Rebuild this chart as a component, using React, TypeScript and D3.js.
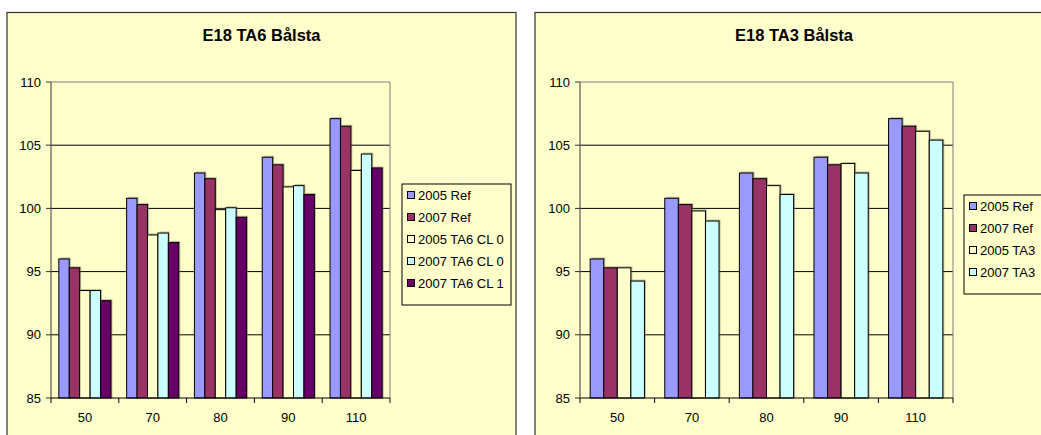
import React from "react";
import * as d3 from "d3";

// Speed categories (km/h)
const categories = ["50", "70", "80", "90", "110"];

// E18 TA6 Bålsta
const ta6Series = ["2005 Ref", "2007 Ref", "2005 TA6 CL 0", "2007 TA6 CL 0", "2007 TA6 CL 1"];
const ta6_2005Ref = [96.0, 100.8, 102.8, 104.05, 107.1];
const ta6_2007Ref = [95.3, 100.3, 102.35, 103.45, 106.5];
const ta6_2005CL0 = [93.5, 97.9, 99.9, 101.7, 103.0];
const ta6_2007CL0 = [93.5, 98.05, 100.05, 101.8, 104.3];
const ta6_2007CL1 = [92.7, 97.3, 99.3, 101.1, 103.2];

// E18 TA3 Bålsta
const ta3Series = ["2005 Ref", "2007 Ref", "2005 TA3", "2007 TA3"];
const ta3_2005Ref = [96.0, 100.8, 102.8, 104.05, 107.1];
const ta3_2007Ref = [95.3, 100.3, 102.35, 103.45, 106.5];
const ta3_2005 = [95.3, 99.8, 101.8, 103.55, 106.1];
const ta3_2007 = [94.25, 99.0, 101.1, 102.8, 105.4];

const yTicks = [85, 90, 95, 100, 105, 110];

const BG = "#FFFFCC";
const FONT = "'Liberation Sans', Arial, sans-serif";

type ChartProps = {
  title: string;
  series: string[];
  values: number[][];
  colors: string[];
  frameX: number;
  frameW: number;
  plotX0: number;
  plotX1: number;
  legendX: number;
  legendY: number;
  legendW: number;
};

function Chart(p: ChartProps) {
  const plotY0 = 82;
  const plotY1 = 398;
  const y = d3.scaleLinear().domain([85, 110]).range([plotY1, plotY0]);
  const x = d3.scaleBand<string>().domain(categories).range([p.plotX0, p.plotX1]).padding(0);
  const groupW = x.bandwidth();
  const barW = groupW / (p.series.length + 1.5);
  const inner = d3
    .scaleBand<number>()
    .domain(d3.range(p.series.length))
    .range([barW * 0.75, groupW - barW * 0.75])
    .padding(0);
  const cx = p.frameX + p.frameW / 2;
  const itemH = 22;
  const legendH = p.series.length * itemH + 1;

  return (
    <g>
      <rect x={p.frameX} y={12.5} width={p.frameW} height={440} fill={BG} stroke="#333" strokeWidth={1.2} />
      <text x={cx} y={41} textAnchor="middle" fontFamily={FONT} fontWeight="bold" fontSize={16.5}>
        {p.title}
      </text>
      {/* gridlines */}
      {yTicks.slice(1, -1).map((t) => (
        <line key={t} x1={p.plotX0} x2={p.plotX1} y1={y(t)} y2={y(t)} stroke="#000" strokeWidth={1} />
      ))}
      {/* plot border top/right */}
      <path d={`M${p.plotX0},${y(110)}H${p.plotX1}V${y(85)}`} fill="none" stroke="#808080" strokeWidth={1} />
      {/* bars */}
      {categories.map((c, ci) =>
        p.values.map((vals, si) => {
          const bx = (x(c) as number) + (inner(si) as number);
          const by = y(vals[ci]);
          const h = y(85) - by;
          return (
            <g key={`${ci}-${si}`}>
              <rect x={bx + 1.5} y={by - 1.5} width={barW} height={h + 1.5} fill="#6e6e5a" opacity={0.45} />
              <rect x={bx} y={by} width={barW} height={h} fill={p.colors[si]} stroke="#000" strokeWidth={1} />
            </g>
          );
        })
      )}
      {/* y axis */}
      <line x1={p.plotX0} x2={p.plotX0} y1={y(110)} y2={y(85)} stroke="#555" strokeWidth={1.2} />
      {yTicks.map((t) => (
        <g key={t}>
          <line x1={p.plotX0 - 5} x2={p.plotX0} y1={y(t)} y2={y(t)} stroke="#333" />
          <text x={p.plotX0 - 10} y={y(t) + 4.5} textAnchor="end" fontFamily={FONT} fontSize={13}>
            {t}
          </text>
        </g>
      ))}
      {/* x axis */}
      <line x1={p.plotX0} x2={p.plotX1} y1={y(85)} y2={y(85)} stroke="#000" strokeWidth={1.2} />
      {[...categories.map((c) => x(c) as number), p.plotX1].map((tx, i) => (
        <line key={i} x1={tx} x2={tx} y1={y(85)} y2={y(85) + 5} stroke="#000" />
      ))}
      {categories.map((c) => (
        <text key={c} x={(x(c) as number) + groupW / 2} y={421.5} textAnchor="middle" fontFamily={FONT} fontSize={13}>
          {c}
        </text>
      ))}
      {/* legend */}
      <rect x={p.legendX} y={p.legendY} width={p.legendW} height={legendH + 10} fill={BG} stroke="#000" strokeWidth={1} />
      {p.series.map((s, i) => {
        const iy = p.legendY + 11 + i * itemH;
        return (
          <g key={s}>
            <rect x={p.legendX + 5.5} y={iy - 3.5} width={7} height={7} fill={p.colors[i]} stroke="#000" strokeWidth={1} />
            <text x={p.legendX + 16} y={iy + 4.5} fontFamily={FONT} fontSize={13}>
              {s}
            </text>
          </g>
        );
      })}
    </g>
  );
}

export default function App() {
  return (
    <svg
      width={1041}
      height={435}
      style={{ position: "absolute", left: 0, top: 0, background: "#fff" }}
    >
      <Chart
        title="E18 TA6 Bålsta"
        series={ta6Series}
        values={[ta6_2005Ref, ta6_2007Ref, ta6_2005CL0, ta6_2007CL0, ta6_2007CL1]}
        colors={["#9999FF", "#993366", "#FFFFCC", "#CCFFFF", "#660066"]}
        frameX={7}
        frameW={509}
        plotX0={51}
        plotX1={390}
        legendX={402}
        legendY={184}
        legendW={109}
      />
      <Chart
        title="E18 TA3 Bålsta"
        series={ta3Series}
        values={[ta3_2005Ref, ta3_2007Ref, ta3_2005, ta3_2007]}
        colors={["#9999FF", "#993366", "#FFFFCC", "#CCFFFF"]}
        frameX={535}
        frameW={518}
        plotX0={580}
        plotX1={953}
        legendX={964}
        legendY={195}
        legendW={100}
      />
    </svg>
  );
}
